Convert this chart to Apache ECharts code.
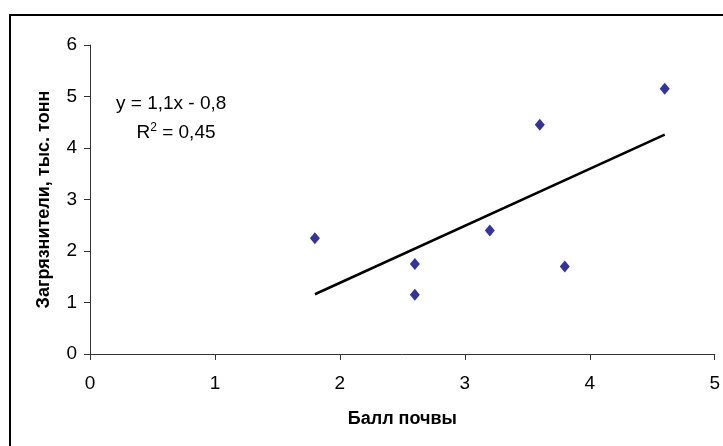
<!DOCTYPE html>
<html>
<head>
<meta charset="utf-8">
<script src="https://cdn.jsdelivr.net/npm/echarts@6/dist/echarts.min.js"></script>
<style>
html,body{margin:0;padding:0;background:#fff;}
#chart{width:723px;height:446px;}
</style>
</head>
<body>
<div id="chart"></div>
<script>
// Data
const soilScore = [1.8, 2.6, 2.6, 3.2, 3.6, 3.8, 4.6];
const pollutants = [2.25, 1.75, 1.15, 2.4, 4.45, 1.7, 5.15];
const trendX = [1.8, 4.6];
const trendY = [1.16, 4.26];
const xTitle = 'Балл почвы';
const yTitle = 'Загрязнители, тыс. тонн';
const eqLine = 'y = 1,1x - 0,8';
const r2Value = '0,45';

const points = soilScore.map((x, i) => [x, pollutants[i]]);
const trend = trendX.map((x, i) => [x, trendY[i]]);

const chart = echarts.init(document.getElementById('chart'));
const font = 'Liberation Sans, Arial, sans-serif';
chart.setOption({
  animation: false,
  backgroundColor: '#fff',
  grid: {left: 90, top: 45, right: 7, bottom: 92, containLabel: false},
  xAxis: {
    type: 'value', min: 0, max: 5, interval: 1,
    name: xTitle, nameLocation: 'middle', nameGap: 56,
    nameTextStyle: {fontFamily: font, fontWeight: 'bold', fontSize: 18, color: '#000'},
    axisLine: {onZero: false, lineStyle: {color: '#333', width: 1}},
    axisTick: {show: true, inside: false, length: 6, lineStyle: {color: '#333'}},
    axisLabel: {fontFamily: font, fontSize: 19, color: '#000', margin: 20},
    splitLine: {show: false}
  },
  yAxis: {
    type: 'value', min: 0, max: 6, interval: 1,
    name: yTitle, nameLocation: 'middle', nameGap: 37, nameRotate: 90,
    nameTextStyle: {fontFamily: font, fontWeight: 'bold', fontSize: 18, color: '#000'},
    axisLine: {show: true, onZero: false, lineStyle: {color: '#333', width: 1}},
    axisTick: {show: true, inside: false, length: 6, lineStyle: {color: '#333'}},
    axisLabel: {fontFamily: font, fontSize: 19, color: '#000', margin: 13},
    splitLine: {show: false}
  },
  series: [
    {
      type: 'line', data: trend, symbol: 'none', silent: true,
      lineStyle: {color: '#000', width: 2.5}, z: 2
    },
    {
      type: 'scatter', data: points, symbol: 'diamond', symbolSize: [10, 12],
      itemStyle: {color: '#000080'}, z: 3
    }
  ],
  graphic: [
    {type: 'rect', shape: {x: 10, y: 15, width: 740, height: 460},
     style: {fill: 'none', stroke: '#000', lineWidth: 2}, silent: true},
    {type: 'text', left: 176 - 60, top: 94, style: {
      text: eqLine, font: '19px ' + font, fill: '#000', width: 120, align: 'center'
    }},
    {type: 'text', x: 176, y: 132, style: {
      text: '{a|R}{s|2}{a| = ' + r2Value + '}', align: 'center', verticalAlign: 'middle',
      rich: {
        a: {font: '19px ' + font, fill: '#000', verticalAlign: 'bottom'},
        s: {font: '12px ' + font, fill: '#000', verticalAlign: 'top', padding: [0, 0, 8, 0]}
      }
    }}
  ]
});
</script>
</body>
</html>
